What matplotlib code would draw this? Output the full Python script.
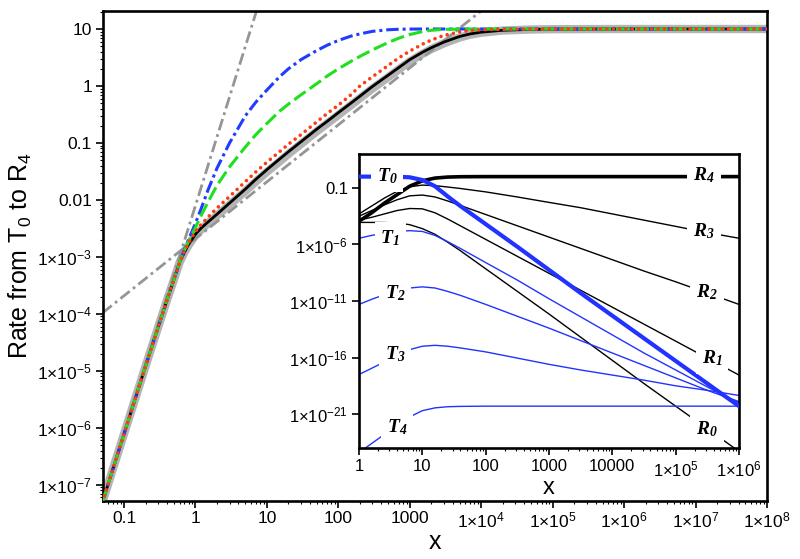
import numpy as np
import matplotlib
matplotlib.use('Agg')
import matplotlib.pyplot as plt
from matplotlib.ticker import FixedLocator, FixedFormatter, LogLocator, NullFormatter, NullLocator

plt.rcParams['font.family'] = ['Liberation Sans', 'DejaVu Sans']
plt.rcParams['mathtext.default'] = 'regular'
plt.rcParams['lines.scale_dashes'] = False

# ---------------- main panel data ----------------
x_main = [0.05, 0.1, 0.2, 0.3, 0.4, 0.5, 0.6, 0.7, 0.8, 1.0, 1.2, 1.5, 2, 3, 5, 7, 10,
          15, 20, 30, 50, 70, 100, 150, 200, 300, 500, 700, 1000, 1500, 2000, 3000,
          5000, 7000, 1e4, 2e4, 5e4, 1e5, 1e6, 1e8]
low_part = [5.0e-8, 7.8e-7, 1.2e-5, 5.8e-5, 1.75e-4, 4.0e-4, 8.0e-4]
rate_band = low_part + [1.2e-3, 1.6e-3, 2.4e-3, 3.0e-3, 3.9e-3, 5.3e-3, 8.2e-3, 0.0143, 0.021,
                        0.031, 0.047, 0.064, 0.096, 0.16, 0.22, 0.31, 0.46, 0.61, 0.9, 1.43,
                        1.95, 2.7, 3.65, 4.45, 5.6, 7.1, 7.95, 8.6, 9.4, 9.8, 9.93, 10, 10]
rate_black = low_part + [1.2e-3, 1.65e-3, 2.5e-3, 3.2e-3, 4.1e-3, 5.6e-3, 8.8e-3, 0.0155, 0.023,
                         0.034, 0.052, 0.07, 0.105, 0.175, 0.24, 0.34, 0.5, 0.66, 0.98, 1.55,
                         2.1, 2.9, 3.9, 4.7, 5.9, 7.4, 8.2, 8.8, 9.5, 9.85, 9.95, 10, 10]
rate_red = low_part + [1.25e-3, 1.75e-3, 2.8e-3, 3.7e-3, 5.0e-3, 7.2e-3, 0.0115, 0.021, 0.031,
                       0.046, 0.07, 0.095, 0.14, 0.235, 0.33, 0.46, 0.7, 1.0, 1.45, 2.3,
                       3.1, 4.1, 5.4, 6.4, 7.7, 8.9, 9.4, 9.7, 9.9, 9.97, 10, 10, 10]
rate_green = low_part + [1.3e-3, 1.85e-3, 3.3e-3, 5.3e-3, 9.2e-3, 0.018, 0.038, 0.085, 0.14,
                         0.22, 0.36, 0.48, 0.7, 1.1, 1.5, 2.0, 2.7, 3.3, 4.3, 5.8,
                         6.9, 8.0, 9.0, 9.5, 9.85, 9.97, 10, 10, 10, 10, 10, 10, 10]
rate_blue = low_part + [1.35e-3, 2.0e-3, 3.9e-3, 7.0e-3, 0.015, 0.036, 0.1, 0.3, 0.52,
                        0.85, 1.45, 2.0, 2.9, 4.2, 5.2, 6.3, 7.5, 8.2, 9.1, 9.7,
                        9.9, 9.97, 10, 10, 10, 10, 10, 10, 10, 10, 10, 10, 10]
asym_steep_x = [0.05, 8.0]
asym_steep_y = [5.0e-8, 32.5]
asym_lin_x = [0.05, 1.0e4]
asym_lin_y = [1.04e-4, 20.8]

main_xticks = [0.1, 1, 10, 100, 1000, 1e4, 1e5, 1e6, 1e7, 1e8]
main_xlabels = ['0.1', '1', '10', '100', '1000', '1×10$^{4}$', '1×10$^{5}$',
                '1×10$^{6}$', '1×10$^{7}$', '1×10$^{8}$']
main_yticks = [1e-7, 1e-6, 1e-5, 1e-4, 1e-3, 0.01, 0.1, 1, 10]
main_ylabels = ['1×10$^{-7}$', '1×10$^{-6}$', '1×10$^{-5}$', '1×10$^{-4}$', '1×10$^{-3}$',
                '0.01', '0.1', '1', '10']

# ---------------- inset data (log10 of value) ----------------
x_inset = [1, 1.585, 2.512, 3.981, 6.31, 10, 15.85, 25.12, 39.81, 100, 316.2, 1000,
           3162, 1e4, 3.162e4, 1e5, 3.162e5, 1e6]
R4_log = [-3.95, -3.2, -2.35, -1.6, -0.85, -0.37, -0.13, -0.04, -0.01, 0, 0, 0, 0, 0, 0, 0, 0, 0]
R3_log = [-3.3, -2.6, -1.9, -1.3, -0.9, -0.75, -0.8, -0.92, -1.05, -1.35, -1.8, -2.28,
          -2.75, -3.3, -3.85, -4.4, -4.95, -5.45]
R2_log = [-3.5, -3.0, -2.5, -2.05, -1.7, -1.63, -1.8, -2.15, -2.55, -3.35, -4.35, -5.35,
          -6.35, -7.35, -8.35, -9.3, -10.3, -11.3]
R1_log = [-3.85, -3.6, -3.3, -3.0, -2.82, -2.85, -3.2, -3.75, -4.35, -5.55, -7.05, -8.55,
          -10.05, -11.55, -13.05, -14.55, -16.05, -17.55]
R0_log = [-4.05, -4.05, -4.06, -4.1, -4.25, -4.6, -5.1, -5.8, -6.55, -8.15, -10.15, -12.15,
          -14.2, -16.25, -18.3, -20.3, -22.3, -24.3]
T0_log = [0, 0, 0, -0.01, -0.06, -0.3, -0.85, -1.75, -2.6, -4.2, -6.2, -8.25, -10.3,
          -12.3, -14.3, -16.3, -18.3, -20.3]
T1_log = [-5.45, -5.2, -5.0, -4.85, -4.78, -4.85, -5.2, -5.75, -6.35, -7.6, -9.15, -10.8,
          -12.4, -14.0, -15.6, -17.1, -18.6, -20.0]
T2_log = [-11.3, -10.85, -10.45, -10.1, -9.85, -9.75, -9.85, -10.15, -10.5, -11.3, -12.35,
          -13.4, -14.5, -15.6, -16.7, -17.8, -18.9, -19.9]
T3_log = [-17.5, -16.95, -16.4, -15.85, -15.3, -15.0, -14.92, -15.0, -15.15, -15.5, -16.05,
          -16.6, -17.1, -17.55, -18.0, -18.5, -18.9, -19.35]
T4_log = [-24.4, -23.6, -22.8, -22.0, -21.25, -20.7, -20.45, -20.35, -20.32, -20.3, -20.3,
          -20.3, -20.3, -20.3, -20.3, -20.3, -20.3, -20.3]

inset_xticks = [1, 10, 100, 1000, 1e4, 1e5, 1e6]
inset_xlabels = ['1', '10', '100', '1000', '10000', '1×10$^{5}$', '1×10$^{6}$']
inset_yticks = [1e-21, 1e-16, 1e-11, 1e-6, 0.1]
inset_ylabels = ['1×10$^{-21}$', '1×10$^{-16}$', '1×10$^{-11}$', '1×10$^{-6}$', '0.1']

# ---------------- figure ----------------
fig = plt.figure(figsize=(8.0, 5.59), dpi=100)
W, H = 800.0, 559.0
ax = fig.add_axes([103 / W, 1 - 501 / H, 664 / W, 490 / H])

gray_band = '#b4b4b4'
gray_line = '#959595'
blue = '#1f3cff'
green = '#1ee01e'
red = '#ff3a10'

ax.plot(x_main, rate_band, color=gray_band, lw=6.0, solid_capstyle='butt', zorder=1)
ax.plot(asym_steep_x, asym_steep_y, color=gray_line, lw=2.0, dashes=(8.5, 3.0, 2.0, 3.0), zorder=2)
ax.plot(asym_lin_x, asym_lin_y, color=gray_line, lw=2.0, dashes=(8.5, 3.0, 2.0, 3.0), zorder=2)
ax.plot(x_main, rate_black, color='black', lw=2.0, zorder=3)
ax.plot(x_main, rate_blue, color=blue, lw=2.2, dashes=(9.0, 2.8, 2.2, 2.8), zorder=4)
ax.plot(x_main, rate_green, color=green, lw=2.2, dashes=(10.0, 3.6), zorder=5)
ax.plot(x_main, rate_red, color=red, lw=2.6, dashes=(0.01, 4.6), dash_capstyle='round', zorder=6)

ax.set_xscale('log')
ax.set_yscale('log')
ax.set_xlim(0.0508, 1e8)
ax.set_ylim(5.2e-8, 20.7)
ax.xaxis.set_major_locator(FixedLocator(main_xticks))
ax.xaxis.set_major_formatter(FixedFormatter(main_xlabels))
ax.xaxis.set_minor_locator(LogLocator(base=10, subs=np.arange(2, 10), numticks=100))
ax.xaxis.set_minor_formatter(NullFormatter())
ax.yaxis.set_major_locator(FixedLocator(main_yticks))
ax.yaxis.set_major_formatter(FixedFormatter(main_ylabels))
ax.yaxis.set_minor_locator(LogLocator(base=10, subs=np.arange(2, 10), numticks=100))
ax.yaxis.set_minor_formatter(NullFormatter())
ax.tick_params(which='major', direction='out', length=5, width=1.2, labelsize=12.5, pad=2)
ax.tick_params(which='minor', direction='out', length=2.5, width=0.8)
ax.tick_params(axis='y', which='major', pad=3)
for s in ax.spines.values():
    s.set_linewidth(1.9)
ax.set_xlabel('x', fontsize=18)
ax.xaxis.set_label_coords(0.5, -0.059)
ax.set_ylabel('Rate from T$_0$ to R$_4$', fontsize=18)
ax.yaxis.set_label_coords(-0.104, 0.5)

# ---------------- inset ----------------
ai = fig.add_axes([359 / W, 1 - 448 / H, 380 / W, 294 / H])
iblue = '#2233ff'
for ylog in [R3_log, R2_log, R1_log, R0_log]:
    ai.plot(x_inset, 10.0 ** np.array(ylog), color='black', lw=1.0, zorder=2)
for ylog in [T1_log, T2_log, T3_log, T4_log]:
    ai.plot(x_inset, 10.0 ** np.array(ylog), color=iblue, lw=1.0, zorder=2)
ai.plot(x_inset, 10.0 ** np.array(R4_log), color='black', lw=2.6, zorder=3)
ai.plot(x_inset, 10.0 ** np.array(T0_log), color=iblue, lw=3.0, zorder=4)

ai.set_xscale('log')
ai.set_yscale('log')
ai.set_xlim(1, 1e6)
ai.set_ylim(1e-24, 1e2)
ai.xaxis.set_major_locator(FixedLocator(inset_xticks))
ai.xaxis.set_major_formatter(FixedFormatter(inset_xlabels))
ai.xaxis.set_minor_locator(LogLocator(base=10, subs=np.arange(2, 10), numticks=100))
ai.xaxis.set_minor_formatter(NullFormatter())
ai.yaxis.set_major_locator(FixedLocator(inset_yticks))
ai.yaxis.set_major_formatter(FixedFormatter(inset_ylabels))
ai.yaxis.set_minor_locator(NullLocator())
ai.tick_params(which='major', direction='out', length=5, width=1.2, labelsize=12, pad=3)
ai.tick_params(which='minor', direction='out', length=2.5, width=0.8)
for s in ai.spines.values():
    s.set_linewidth(1.9)
ai.set_xlabel('x', fontsize=17)
ai.xaxis.set_label_coords(0.5, -0.097)

labels_inset = [('T$_0$', 0.074, 0.925), ('T$_1$', 0.082, 0.714), ('T$_2$', 0.095, 0.527),
                ('T$_3$', 0.095, 0.320), ('T$_4$', 0.100, 0.071),
                ('R$_4$', 0.908, 0.929), ('R$_3$', 0.908, 0.738), ('R$_2$', 0.916, 0.531),
                ('R$_1$', 0.929, 0.306), ('R$_0$', 0.916, 0.065)]
for txt, fx, fy in labels_inset:
    ai.text(fx, fy, txt, transform=ai.transAxes, ha='center', va='center',
            fontsize=14, family=['Liberation Serif', 'DejaVu Serif'], style='italic',
            weight='bold', zorder=10,
            bbox=dict(boxstyle='square,pad=0.3', facecolor='white', edgecolor='none'))

fig.savefig('out.png', dpi=100)
